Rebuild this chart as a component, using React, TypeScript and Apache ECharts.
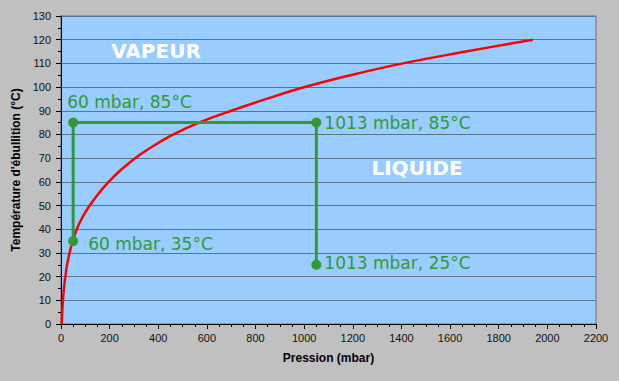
import React, { useEffect, useRef } from "react";
import * as echarts from "echarts";

// Courbe de température d'ébullition de l'eau (pression en mbar, température en °C)
const curvePressure = [3, 5, 8, 12, 18, 25, 35, 48, 65, 88, 118, 154, 196, 246, 305, 378, 462, 568, 700, 845, 1002, 1190, 1406, 1665, 1940];
const curveTemperature = [0, 5, 10, 15, 20, 25, 30, 35, 40, 45, 50, 55, 60, 65, 70, 75, 80, 85, 90, 95, 100, 105, 110, 115, 120];

// Chemin vert (points annotés)
const pathPressure = [50, 50, 1050, 1050];
const pathTemperature = [35, 85, 85, 25];
const pathLabels = ["60 mbar, 35°C", "60 mbar, 85°C", "1013 mbar, 85°C", "1013 mbar, 25°C"];

const regionLabels = ["VAPEUR", "LIQUIDE"];

const xTitle = "Pression (mbar)";
const yTitle = "Température d'ébullition (°C)";

export default function App() {
  const ref = useRef<HTMLDivElement>(null);

  useEffect(() => {
    if (!ref.current) return;
    const chart = echarts.init(ref.current, null, { renderer: "svg" });

    const green = "#339933";
    const labelFont = { fontFamily: "DejaVu Sans", fontSize: 17, color: green };

    const pathData = pathPressure.map((p, i) => {
      const item: any = { value: [p, pathTemperature[i]] };
      if (i === 1) {
        item.label = {
          show: true,
          formatter: pathLabels[i],
          position: "top",
          align: "left",
          offset: [-6, -2],
          ...labelFont,
        };
      } else {
        item.label = {
          show: true,
          formatter: pathLabels[i],
          position: "right",
          distance: i === 0 ? 10 : 3,
          offset: i === 0 ? [0, 3] : i === 3 ? [0, -2] : [0, 0],
          ...labelFont,
        };
      }
      return item;
    });

    chart.setOption({
      animation: false,
      backgroundColor: "#c0c0c0",
      grid: {
        left: 61,
        right: 23,
        top: 16,
        bottom: 57,
        show: true,
        backgroundColor: "#99ccff",
        borderColor: "#8a8a8a",
        borderWidth: 1.5,
      },
      xAxis: {
        type: "value",
        min: 0,
        max: 2200,
        interval: 200,
        name: xTitle,
        nameLocation: "middle",
        nameGap: 28,
        nameTextStyle: { fontFamily: "Liberation Sans", fontSize: 12, fontWeight: "bold", color: "#000" },
        axisLine: { show: true, lineStyle: { color: "#000", width: 1 } },
        axisTick: { show: true, length: 5, lineStyle: { color: "#000" } },
        minorTick: { show: true, splitNumber: 4, length: 3, lineStyle: { color: "#000" } },
        axisLabel: {
          fontFamily: "Liberation Sans",
          fontSize: 11,
          color: "#111",
          margin: 8,
          formatter: (v: number) => String(v),
        },
        splitLine: { show: false },
      },
      yAxis: {
        type: "value",
        min: 0,
        max: 130,
        interval: 10,
        name: yTitle,
        nameLocation: "middle",
        nameGap: 38,
        nameRotate: 90,
        nameTextStyle: { fontFamily: "Liberation Sans", fontSize: 12, fontWeight: "bold", color: "#000" },
        axisLine: { show: true, lineStyle: { color: "#000", width: 1 } },
        axisTick: { show: true, length: 5, lineStyle: { color: "#000" } },
        minorTick: { show: true, splitNumber: 2, length: 3, lineStyle: { color: "#000" } },
        axisLabel: { fontFamily: "Liberation Sans", fontSize: 11, color: "#111", margin: 10 },
        splitLine: { show: true, lineStyle: { color: "#5f7388", width: 1.2 } },
      },
      series: [
        {
          type: "line",
          data: curvePressure.map((p, i) => [p, curveTemperature[i]]),
          smooth: 0.4,
          showSymbol: false,
          lineStyle: { color: "#ff0000", width: 2.5 },
          z: 3,
        },
        {
          type: "line",
          data: pathData,
          symbol: "circle",
          symbolSize: 10,
          showSymbol: true,
          lineStyle: { color: green, width: 3 },
          itemStyle: { color: green },
          z: 4,
        },
      ],
      graphic: [
        {
          type: "text",
          x: 156,
          y: 51,
          style: {
            text: regionLabels[0],
            fill: "#ffffff",
            font: "bold 20px 'DejaVu Sans'",
            align: "center",
            verticalAlign: "middle",
          },
        },
        {
          type: "text",
          x: 417,
          y: 168,
          style: {
            text: regionLabels[1],
            fill: "#ffffff",
            font: "bold 20px 'DejaVu Sans'",
            align: "center",
            verticalAlign: "middle",
          },
        },
      ],
    });

    return () => chart.dispose();
  }, []);

  return (
    <div
      ref={ref}
      style={{ position: "absolute", left: 0, top: 0, width: 619, height: 381 }}
    />
  );
}
